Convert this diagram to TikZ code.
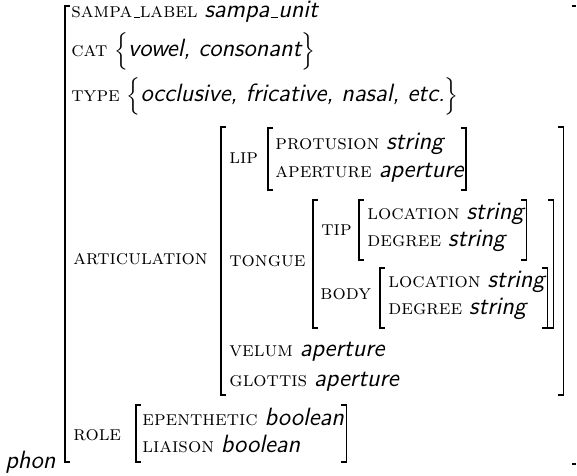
\documentclass[tikz,border=0pt]{standalone}
\usepackage{amsmath}
\newcommand\attrn[1]{\textsc{#1}}
\newcommand\valn[1]{{\fontsize{12}{14}\selectfont\sffamily\itshape #1}}
\newcommand\avmus{\leavevmode\kern.06em\vbox{\hrule width.3em}}
\newcommand\avmL[3]{\draw[brk] ({#1+5},#2) -- (#1,#2) -- (#1,#3) -- ({#1+5},#3);}
% right bracket at the x of a named coordinate
\newcommand\avmRc[3]{\draw[brk] (#1 |- 0,#2) ++(-5,0) -- (#1 |- 0,#2) -- (#1 |- 0,#3) -- ++(-5,0);}
\begin{document}
\begin{tikzpicture}[x=0.48pt,y=-0.48pt,
  attr/.style={anchor=base west,inner sep=0pt,font=\normalsize},
  brk/.style={line width=0.55pt}]
\useasboundingbox (0,0) rectangle (577,476);
% outer
\node[attr] (phon) at (5,468) {\valn{phon}};
\avmL{65}{6}{462}
\draw[brk] (572,6) -- (576,6);
\draw[brk] (572,464) -- (576,464);
\node[attr] (sampa) at (71,18) {\attrn{sampa\avmus label} \valn{sampa\avmus unit}};
\node[attr] (cat) at (71,57) {\attrn{cat} $\Bigl\{$\valn{vowel, consonant}$\Bigr\}$};
\node[attr] (type) at (71,102) {\attrn{type} $\Bigl\{$\valn{occlusive, fricative, nasal, etc.}$\Bigr\}$};
% articulation
\node[attr] (artic) at (73,265) {\attrn{articulation}};
\node[attr] (lip) at (229,164) {\attrn{lip}};
\node[attr] (protusion) at (275,150) {\attrn{protusion} \valn{string}};
\node[attr] (aperture) at (275,178) {\attrn{aperture} \valn{aperture}};
\avmL{268}{128}{190}
\path (aperture.east) ++(2,0) coordinate (lipR);
\avmRc{lipR}{128}{190}
\node[attr] (tongue) at (229,267) {\attrn{tongue}};
\node[attr] (tip) at (321,236) {\attrn{tip}};
\node[attr] (tiploc) at (367,220) {\attrn{location} \valn{string}};
\node[attr] (tipdeg) at (367,247) {\attrn{degree} \valn{string}};
\avmL{359}{200}{260}
\path (tiploc.east) ++(2,0) coordinate (tipR);
\avmRc{tipR}{200}{260}
\node[attr] (body) at (320,300) {\attrn{body}};
\node[attr] (bodyloc) at (388,288) {\attrn{location} \valn{string}};
\node[attr] (bodydeg) at (388,315) {\attrn{degree} \valn{string}};
\avmL{380}{268}{328}
\path (bodyloc.east) ++(2,0) coordinate (bodyR);
\avmRc{bodyR}{268}{328}
\avmL{313}{200}{328}
\path (bodyR) ++(6,0) coordinate (tongueR);
\avmRc{tongueR}{200}{328}
\node[attr] (velum) at (229,357) {\attrn{velum} \valn{aperture}};
\node[attr] (glottis) at (229,386) {\attrn{glottis} \valn{aperture}};
\avmL{221}{127}{395}
\path (tongueR) ++(10,0) coordinate (articR);
\avmRc{articR}{127}{395}
% role
\node[attr] (role) at (73,440) {\attrn{role}};
\node[attr] (epen) at (142,425) {\attrn{epenthetic} \valn{boolean}};
\node[attr] (liaison) at (142,452) {\attrn{liaison} \valn{boolean}};
\avmL{136}{405}{462}
\path (epen.east) ++(2,0) coordinate (roleR);
\avmRc{roleR}{405}{462}
\end{tikzpicture}
\end{document}
